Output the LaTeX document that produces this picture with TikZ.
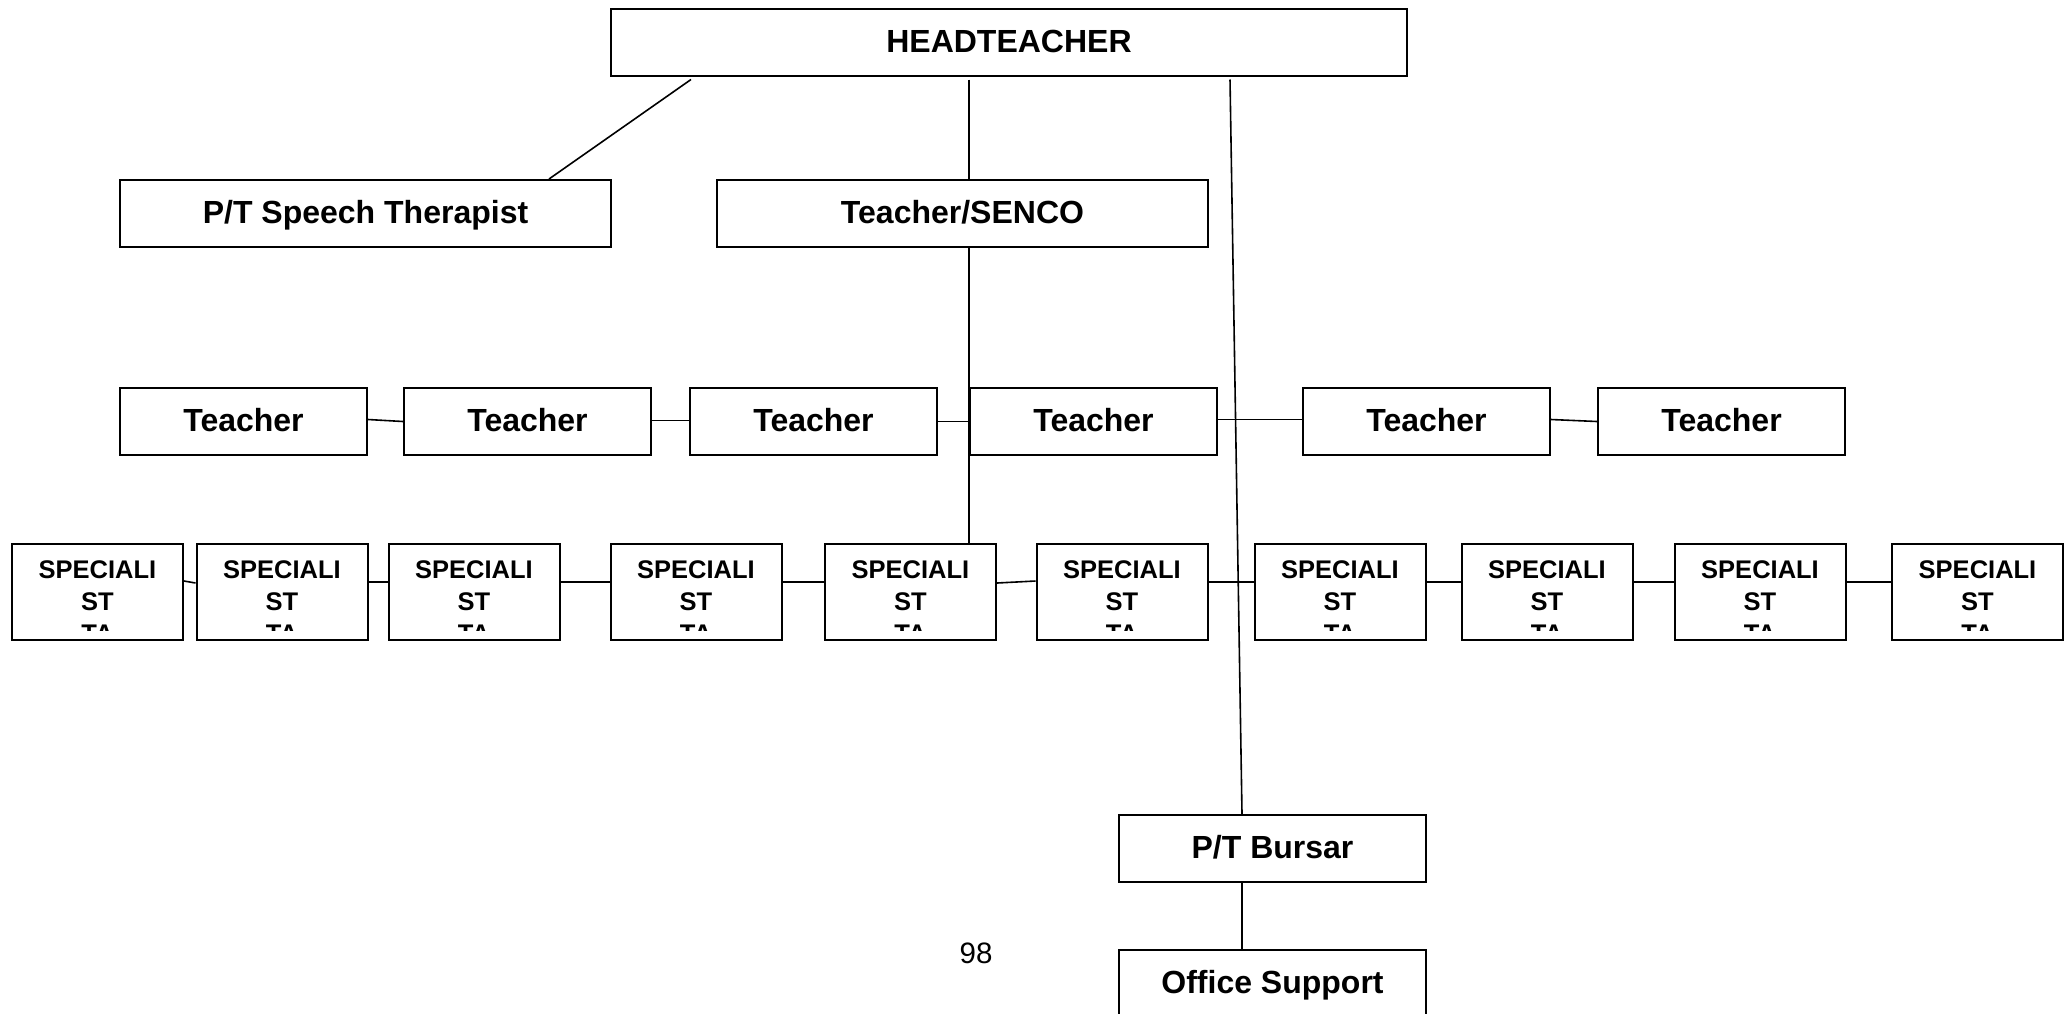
\documentclass[tikz,border=0pt]{standalone}
\usepackage{fontspec}
\setmainfont{Liberation Sans}
\begin{document}
\begin{tikzpicture}[x=0.5pt,y=-0.5pt,
  box/.style={draw, line width=1pt, minimum height=33.5pt, inner sep=0pt,
    font=\bfseries\fontsize{16}{19}\selectfont, text height=11.46pt, text depth=1.3pt},
  wide/.style={box, minimum width=245.5pt},
  tbox/.style={box, minimum width=123.5pt},
  bbox/.style={box, minimum width=153.5pt},
  stxt/.style={anchor=base, inner sep=0pt, font=\bfseries\fontsize{12.75}{13.5}\selectfont},
  spec/.style={draw, line width=1pt, minimum width=85.5pt, minimum height=48pt, inner sep=0pt,
    path picture={
      \clip (path picture bounding box.north west) rectangle
            ([yshift=-43pt]path picture bounding box.north east);
      \node[stxt] at ([yshift=-17pt]path picture bounding box.north) {SPECIALI};
      \node[stxt] at ([yshift=-33pt]path picture bounding box.north) {ST};
      \node[stxt] at ([yshift=-49pt]path picture bounding box.north) {TA};
    }},
  link/.style={line width=0.8pt}
]
\useasboundingbox (0,0) rectangle (2070,1013);
\clip (0,0) rectangle (2070,1013);

% top level
\node[box, minimum width=398pt] (ht) at (1009,42) {HEADTEACHER};
\node[wide] (speech) at (365.5,213.5) {P/T Speech Therapist};
\node[wide] (senco) at (962.5,213.5) {Teacher/SENCO};

% teachers
\foreach \i/\x in {1/243.5, 2/527.5, 3/813.5, 4/1093.5, 5/1426.5, 6/1721.5}
  \node[tbox] (t\i) at (\x,421.5) {Teacher};

% specialist teaching assistants
\foreach \i/\x in {1/97.5, 2/282, 3/474, 4/696, 5/910.5, 6/1122, 7/1340, 8/1547, 9/1760, 10/1977.5}
  \node[spec] (s\i) at (\x,592) {};

% office
\node[bbox] (bursar) at (1272.5,848.5) {P/T Bursar};
\node[bbox] (office) at (1272.5,983.5) {Office Support};

% page number
\node[inner sep=0pt, font=\fontsize{14.75}{17}\selectfont, text height=10.56pt, text depth=0pt]
  (pg) at (976,952.5) {98};

% links from the headteacher
\draw[link] ([xshift=40.5pt,yshift=-1.5pt]ht.south west) -- ([xshift=91.75pt]speech.north);
\draw[link] ([yshift=-1.5pt]ht.south -| t4.west) -- (senco.north -| t4.west);
\draw[link] ([xshift=110.5pt,yshift=-1.5pt]ht.south) -- ([xshift=-15.25pt]bursar.north);
\draw[link] (senco.south -| t4.west) -- (s5.north -| t4.west);
\draw[link] ([xshift=-15.25pt]bursar.south) -- ([xshift=-15.25pt]office.north);

% teacher row
\draw[link] ([yshift=1pt]t1.east) -- (t2.west);
\draw[link] ([yshift=0.5pt]t2.east) -- ([yshift=0.5pt]t3.west);
\draw[link] (t3.east) -- (t4.west);
\draw[link] ([yshift=1pt]t4.east) -- ([yshift=1pt]t5.west);
\draw[link] ([yshift=1pt]t5.east) -- (t6.west);

% specialist row
\draw[link] ([yshift=5.5pt]s1.east) -- ([yshift=4.5pt]s2.west);
\foreach \a/\b in {2/3, 3/4, 4/5, 6/7, 7/8, 8/9, 9/10}
  \draw[link] ([yshift=5pt]s\a.east) -- ([yshift=5pt]s\b.west);
\draw[link] ([yshift=4.5pt]s5.east) -- ([yshift=5.5pt]s6.west);
\end{tikzpicture}
\end{document}
